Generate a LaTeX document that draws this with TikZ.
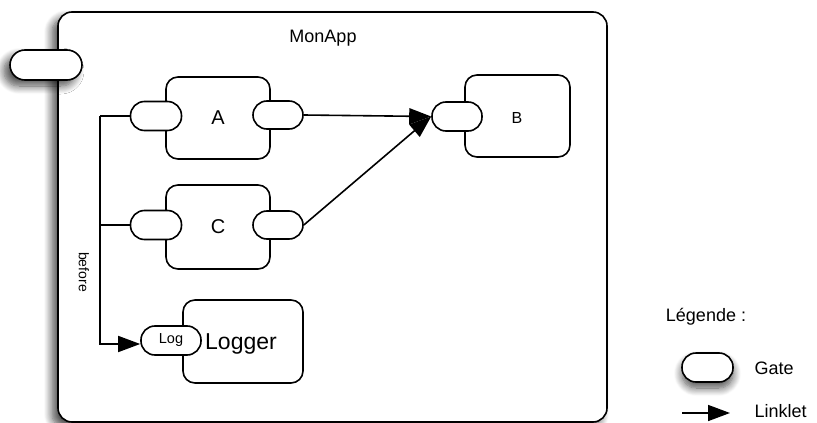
\documentclass[tikz,border=0pt]{standalone}
\usepackage{fontspec}
\setmainfont{Liberation Sans}
\usetikzlibrary{arrows.meta,shadows.blur}
\begin{document}
\begin{tikzpicture}[x=1pt,y=-1pt,
  box/.style={draw,line width=1.6pt,fill=white,rounded corners=12pt,inner sep=0pt},
  gate/.style={draw,line width=1.6pt,fill=white,rounded corners=14pt,inner sep=0pt,minimum width=51pt,minimum height=29pt},
  shad/.style={blur shadow={shadow xshift=-6pt,shadow yshift=-6pt,shadow blur radius=8pt,shadow blur steps=10,shadow opacity=70}},
  wire/.style={line width=1.6pt},
  arr/.style={line width=1.6pt,-{Triangle[length=22pt,width=16pt]}}]
\useasboundingbox (0,0) rectangle (817,423);
% main box
\node[box,shad,minimum width=549pt,minimum height=410pt,rounded corners=14pt] (main) at (332.5,217) {};
\node[font=\fontsize{18}{21}\selectfont] (title) at (323,38) {MonApp};
% outer gate
\node[gate,shad,minimum width=72pt,minimum height=30pt,rounded corners=15pt] (og) at (46,65) {};
% boxes
\node[box,minimum width=104pt,minimum height=82pt,font=\fontsize{20}{24}\selectfont] (A) at (218,118) {A};
\node[box,minimum width=104pt,minimum height=84pt,font=\fontsize{20}{24}\selectfont] (C) at (218,227) {C};
\node[box,minimum width=105pt,minimum height=82pt] (B) at (517.5,116) {};
\node[font=\fontsize{16}{19}\selectfont] (Bt) at (517,118) {B};
\node[box,minimum width=120pt,minimum height=83pt] (L) at (243,341.5) {};
\node[font=\fontsize{23}{27}\selectfont] (Lt) at (241,344) {Logger};
% gates
\node[gate] (Al) at (156,116) {};
\node[gate,minimum width=50pt,minimum height=28pt] (Ar) at (278,115) {};
\node[gate] (Cl) at (156,225) {};
\node[gate,minimum width=50pt,minimum height=28pt] (Cr) at (278,225) {};
\node[gate,minimum width=50pt] (Bl) at (457,116.5) {};
\node[gate,minimum width=60pt,font=\fontsize{14.5}{17}\selectfont] (Log) at (171,340.5) {Log};
% wires
\coordinate (j1) at (100,116);
\coordinate (j2) at (100,225);
\coordinate (j3) at (100,344);
\draw[wire] (Al.west) -- (j1);
\draw[wire] (Cl.west) -- (j2);
\draw[arr] (j1) -- (j3) -- (Log.west |- j3);
\node[rotate=-90,font=\fontsize{14}{17}\selectfont] (bef) at (84,272) {before};
\draw[arr] (Ar.east) -- (Bl.west);
\draw[arr] (Cr.east) -- (Bl.west);
% legend
\node[font=\fontsize{18}{21}\selectfont] (leg) at (706,317) {Légende :};
\node[gate,shad,shadow xshift=0pt,minimum width=51pt,minimum height=29pt] (lg) at (707.5,367.5) {};
\node[anchor=west,font=\fontsize{18}{21}\selectfont] (lgt) at (751,368) {Gate};
\coordinate (la) at (682,413);
\coordinate (lb) at (730,413);
\draw[arr] (la) -- (lb);
\node[anchor=west,font=\fontsize{18}{21}\selectfont] (llt) at (751,411) {Linklet};
\end{tikzpicture}
\end{document}
